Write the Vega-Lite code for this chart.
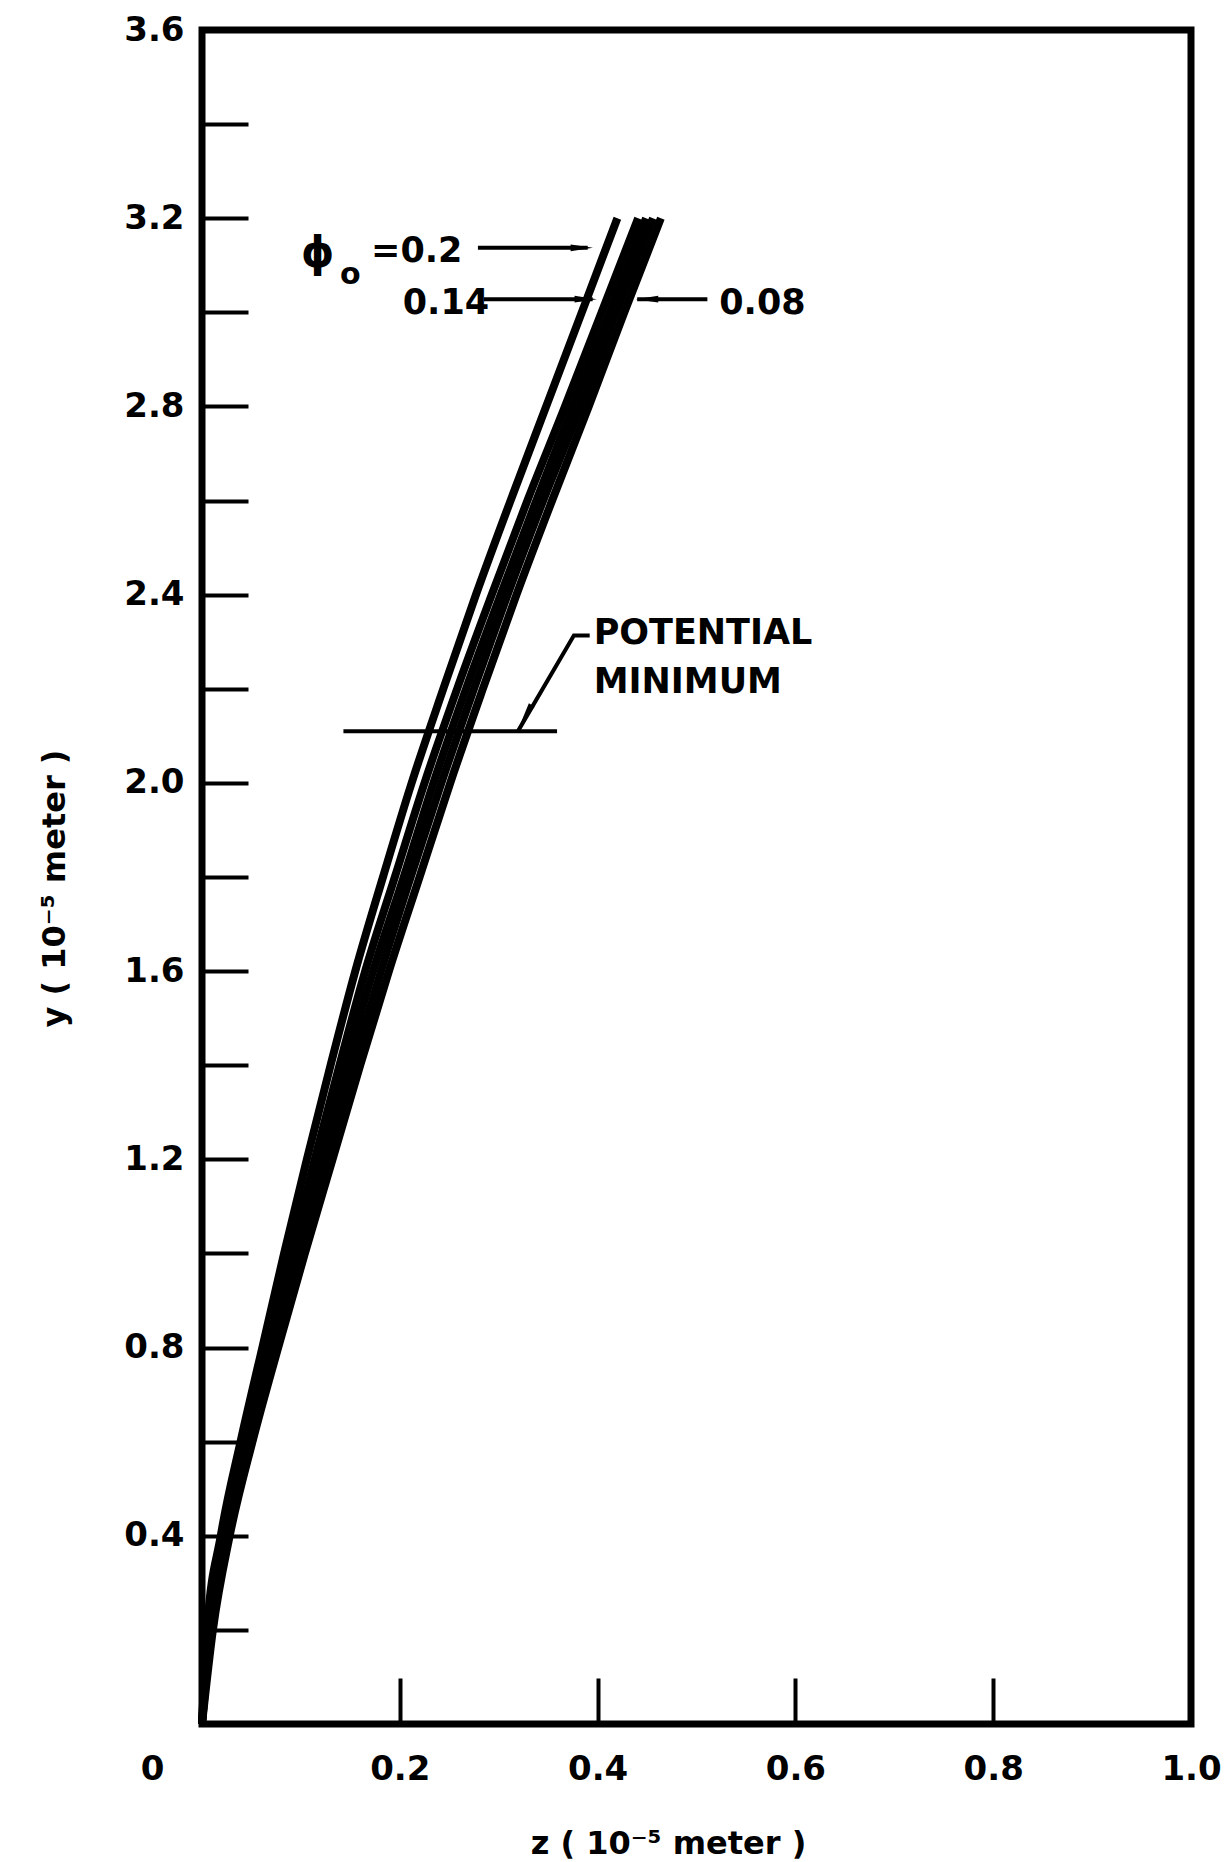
{
  "$schema": "https://vega.github.io/schema/vega-lite/v6.json",
  "width": 989,
  "height": 1694,
  "autosize": {"type": "none"},
  "padding": {"left": 202, "top": 30, "right": 39, "bottom": 138},
  "background": "white",
  "config": {
    "view": {"stroke": "black", "strokeWidth": 7},
    "font": "DejaVu Sans",
    "axis": {
      "domain": false,
      "grid": false,
      "tickColor": "black",
      "tickWidth": 4,
      "tickSize": -46,
      "labelFont": "DejaVu Sans",
      "labelFontWeight": "bold",
      "labelFontSize": 34,
      "labelColor": "black",
      "labelOverlap": false,
      "labelFlush": false,
      "titleFont": "DejaVu Sans",
      "titleFontWeight": "bold",
      "titleFontSize": 32,
      "titleColor": "black"
    }
  },
  "datasets": {
    "curves": [
      {"phi": "0.2", "y": 0, "z": 0}, {"phi": "0.2", "y": 0.2, "z": 0.005}, {"phi": "0.2", "y": 0.4, "z": 0.019}, {"phi": "0.2", "y": 0.6, "z": 0.039}, {"phi": "0.2", "y": 0.8, "z": 0.061}, {"phi": "0.2", "y": 1.0, "z": 0.083}, {"phi": "0.2", "y": 1.2, "z": 0.106}, {"phi": "0.2", "y": 1.4, "z": 0.130}, {"phi": "0.2", "y": 1.6, "z": 0.155}, {"phi": "0.2", "y": 1.8, "z": 0.183}, {"phi": "0.2", "y": 2.0, "z": 0.212}, {"phi": "0.2", "y": 2.2, "z": 0.244}, {"phi": "0.2", "y": 2.4, "z": 0.277}, {"phi": "0.2", "y": 2.6, "z": 0.312}, {"phi": "0.2", "y": 2.8, "z": 0.348}, {"phi": "0.2", "y": 3.0, "z": 0.384}, {"phi": "0.2", "y": 3.2, "z": 0.420},
      {"phi": "0.14", "y": 0, "z": 0}, {"phi": "0.14", "y": 0.2, "z": 0.006}, {"phi": "0.14", "y": 0.4, "z": 0.022}, {"phi": "0.14", "y": 0.6, "z": 0.043}, {"phi": "0.14", "y": 0.8, "z": 0.066}, {"phi": "0.14", "y": 1.0, "z": 0.090}, {"phi": "0.14", "y": 1.2, "z": 0.114}, {"phi": "0.14", "y": 1.4, "z": 0.139}, {"phi": "0.14", "y": 1.6, "z": 0.165}, {"phi": "0.14", "y": 1.8, "z": 0.195}, {"phi": "0.14", "y": 2.0, "z": 0.225}, {"phi": "0.14", "y": 2.2, "z": 0.258}, {"phi": "0.14", "y": 2.4, "z": 0.293}, {"phi": "0.14", "y": 2.6, "z": 0.329}, {"phi": "0.14", "y": 2.8, "z": 0.367}, {"phi": "0.14", "y": 3.0, "z": 0.404}, {"phi": "0.14", "y": 3.2, "z": 0.441},
      {"phi": "0.12", "y": 0, "z": 0}, {"phi": "0.12", "y": 0.2, "z": 0.008}, {"phi": "0.12", "y": 0.4, "z": 0.024}, {"phi": "0.12", "y": 0.6, "z": 0.046}, {"phi": "0.12", "y": 0.8, "z": 0.070}, {"phi": "0.12", "y": 1.0, "z": 0.095}, {"phi": "0.12", "y": 1.2, "z": 0.120}, {"phi": "0.12", "y": 1.4, "z": 0.146}, {"phi": "0.12", "y": 1.6, "z": 0.173}, {"phi": "0.12", "y": 1.8, "z": 0.204}, {"phi": "0.12", "y": 2.0, "z": 0.234}, {"phi": "0.12", "y": 2.2, "z": 0.267}, {"phi": "0.12", "y": 2.4, "z": 0.302}, {"phi": "0.12", "y": 2.6, "z": 0.338}, {"phi": "0.12", "y": 2.8, "z": 0.375}, {"phi": "0.12", "y": 3.0, "z": 0.412}, {"phi": "0.12", "y": 3.2, "z": 0.449},
      {"phi": "0.10", "y": 0, "z": 0}, {"phi": "0.10", "y": 0.2, "z": 0.009}, {"phi": "0.10", "y": 0.4, "z": 0.026}, {"phi": "0.10", "y": 0.6, "z": 0.048}, {"phi": "0.10", "y": 0.8, "z": 0.073}, {"phi": "0.10", "y": 1.0, "z": 0.099}, {"phi": "0.10", "y": 1.2, "z": 0.126}, {"phi": "0.10", "y": 1.4, "z": 0.153}, {"phi": "0.10", "y": 1.6, "z": 0.181}, {"phi": "0.10", "y": 1.8, "z": 0.211}, {"phi": "0.10", "y": 2.0, "z": 0.242}, {"phi": "0.10", "y": 2.2, "z": 0.275}, {"phi": "0.10", "y": 2.4, "z": 0.309}, {"phi": "0.10", "y": 2.6, "z": 0.345}, {"phi": "0.10", "y": 2.8, "z": 0.383}, {"phi": "0.10", "y": 3.0, "z": 0.419}, {"phi": "0.10", "y": 3.2, "z": 0.456},
      {"phi": "0.08", "y": 0, "z": 0}, {"phi": "0.08", "y": 0.2, "z": 0.011}, {"phi": "0.08", "y": 0.4, "z": 0.028}, {"phi": "0.08", "y": 0.6, "z": 0.051}, {"phi": "0.08", "y": 0.8, "z": 0.077}, {"phi": "0.08", "y": 1.0, "z": 0.104}, {"phi": "0.08", "y": 1.2, "z": 0.132}, {"phi": "0.08", "y": 1.4, "z": 0.160}, {"phi": "0.08", "y": 1.6, "z": 0.189}, {"phi": "0.08", "y": 1.8, "z": 0.220}, {"phi": "0.08", "y": 2.0, "z": 0.251}, {"phi": "0.08", "y": 2.2, "z": 0.284}, {"phi": "0.08", "y": 2.4, "z": 0.318}, {"phi": "0.08", "y": 2.6, "z": 0.354}, {"phi": "0.08", "y": 2.8, "z": 0.391}, {"phi": "0.08", "y": 3.0, "z": 0.427}, {"phi": "0.08", "y": 3.2, "z": 0.464}
    ],
    "guides": [
      {"seg": "potmin", "o": 1, "z": 0.143, "y": 2.11}, {"seg": "potmin", "o": 2, "z": 0.359, "y": 2.11},
      {"seg": "leader", "o": 1, "z": 0.3195, "y": 2.11}, {"seg": "leader", "o": 2, "z": 0.376, "y": 2.313}, {"seg": "leader", "o": 3, "z": 0.392, "y": 2.313},
      {"seg": "a02", "o": 1, "z": 0.279, "y": 3.137}, {"seg": "a02", "o": 2, "z": 0.39, "y": 3.137},
      {"seg": "a014", "o": 1, "z": 0.285, "y": 3.028}, {"seg": "a014", "o": 2, "z": 0.395, "y": 3.028},
      {"seg": "a008", "o": 1, "z": 0.44, "y": 3.028}, {"seg": "a008", "o": 2, "z": 0.511, "y": 3.028}
    ],
    "labels": [
      {"t": "=0.2", "z": 0.171, "y": 3.13},
      {"t": "0.14", "z": 0.203, "y": 3.02},
      {"t": "0.08", "z": 0.523, "y": 3.02},
      {"t": "POTENTIAL", "z": 0.396, "y": 2.318},
      {"t": "MINIMUM", "z": 0.396, "y": 2.215}
    ],
    "phi": [{"t": "ϕ", "z": 0.117, "y": 3.125}],
    "sub": [{"t": "o", "z": 0.15, "y": 3.08}],
    "headsR": [{"z": 0.384, "y": 3.137}, {"z": 0.388, "y": 3.028}],
    "headsL": [{"z": 0.45, "y": 3.028}],
    "headsLeader": [{"z": 0.3276, "y": 2.145}]
  },
  "encoding": {
    "x": {
      "field": "z", "type": "quantitative",
      "scale": {"domain": [0, 1], "nice": false, "zero": false},
      "axis": {
        "values": [0, 0.2, 0.4, 0.6, 0.8, 1.0],
        "labelExpr": "datum.value == 0 ? '0' : format(datum.value, '.1f')",
        "labelOffset": {"condition": {"test": "datum.value == 0", "value": -50}, "value": 0},
        "labelPadding": 74,
        "labelBaseline": "top",
        "title": "z ( 10⁻⁵ meter )",
        "titleX": 466,
        "titleY": 119,
        "titleBaseline": "middle",
        "titleAlign": "center"
      }
    },
    "y": {
      "field": "y", "type": "quantitative",
      "scale": {"domain": [0, 3.6], "nice": false, "zero": false},
      "axis": {
        "values": [0.2, 0.4, 0.6, 0.8, 1.0, 1.2, 1.4, 1.6, 1.8, 2.0, 2.2, 2.4, 2.6, 2.8, 3.0, 3.2, 3.4, 3.6],
        "labelExpr": "indexof(['0.4','0.8','1.2','1.6','2.0','2.4','2.8','3.2','3.6'], format(datum.value, '.1f')) >= 0 ? format(datum.value, '.1f') : ''",
        "labelPadding": 64,
        "labelBaseline": "middle",
        "title": "y ( 10⁻⁵ meter )",
        "titleAngle": -90,
        "titleX": -148,
        "titleY": 858,
        "titleBaseline": "middle",
        "titleAlign": "center"
      }
    }
  },
  "layer": [
    {
      "data": {"name": "curves"},
      "mark": {"type": "line", "color": "black", "strokeWidth": 8, "interpolate": "monotone", "strokeCap": "butt"},
      "encoding": {"detail": {"field": "phi"}, "order": {"field": "y", "type": "quantitative"}}
    },
    {
      "data": {"name": "guides"},
      "mark": {"type": "line", "color": "black", "strokeWidth": 4},
      "encoding": {"detail": {"field": "seg"}, "order": {"field": "o", "type": "quantitative"}}
    },
    {
      "data": {"name": "labels"},
      "mark": {"type": "text", "align": "left", "baseline": "middle", "font": "DejaVu Sans", "fontWeight": "bold", "fontSize": 35, "color": "black"},
      "encoding": {"text": {"field": "t"}}
    },
    {
      "data": {"name": "phi"},
      "mark": {"type": "text", "align": "center", "baseline": "middle", "font": "DejaVu Sans", "fontWeight": "bold", "fontSize": 42, "color": "black"},
      "encoding": {"text": {"field": "t"}}
    },
    {
      "data": {"name": "sub"},
      "mark": {"type": "text", "align": "center", "baseline": "middle", "font": "DejaVu Sans", "fontWeight": "bold", "fontSize": 30, "color": "black"},
      "encoding": {"text": {"field": "t"}}
    },
    {
      "data": {"name": "headsR"},
      "mark": {"type": "point", "shape": "M-1,-0.3L1,0L-1,0.3Z", "filled": true, "color": "black", "opacity": 1, "size": 500}
    },
    {
      "data": {"name": "headsL"},
      "mark": {"type": "point", "shape": "M1,-0.3L-1,0L1,0.3Z", "filled": true, "color": "black", "opacity": 1, "size": 500}
    },
    {
      "data": {"name": "headsLeader"},
      "mark": {"type": "point", "shape": "M-1,-0.3L1,0L-1,0.3Z", "filled": true, "color": "black", "opacity": 1, "size": 500, "angle": 121}
    }
  ]
}
